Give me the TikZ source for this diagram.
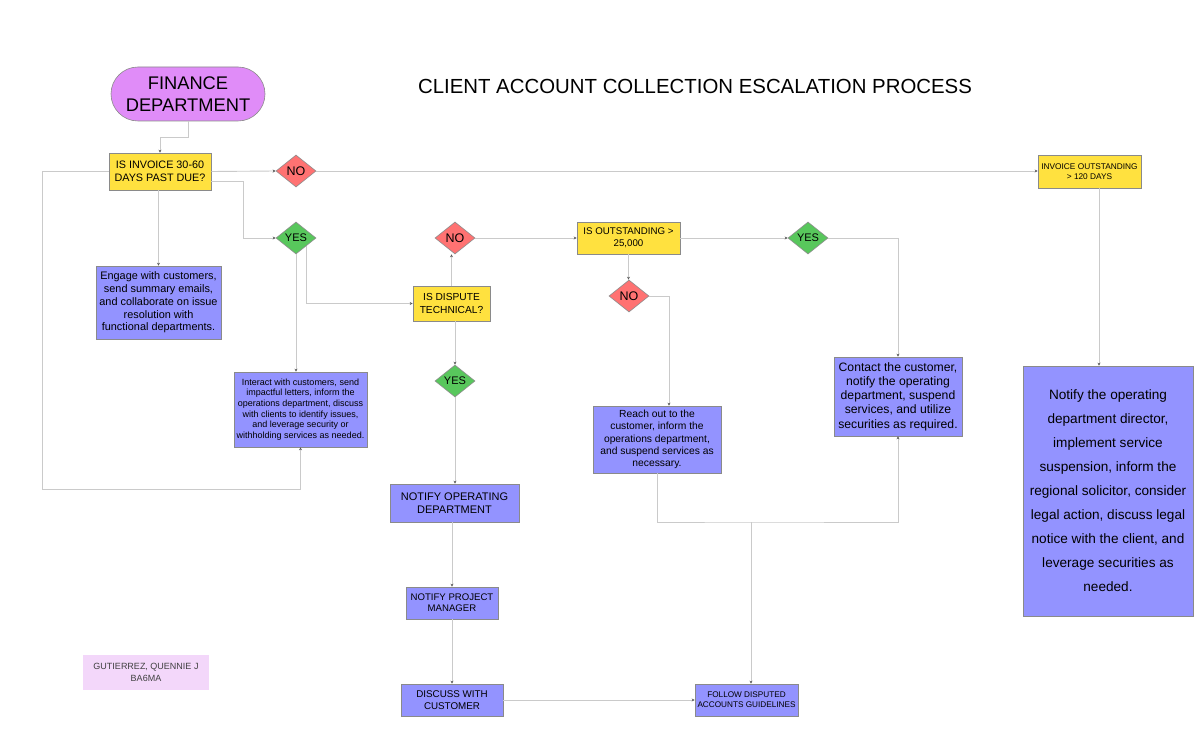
\documentclass[tikz,border=0pt]{standalone}
\usepackage{fontspec}
\setmainfont{Liberation Sans}
\setsansfont{Liberation Sans}
\usepackage{xcolor}
\usepackage{tikz}
\usetikzlibrary{shapes.geometric, arrows.meta, positioning, calc}

\definecolor{finfill}{HTML}{E08CF8}
\definecolor{qfill}{HTML}{FFE13F}
\definecolor{nofill}{HTML}{FF7272}
\definecolor{yesfill}{HTML}{58C75C}
\definecolor{actfill}{HTML}{9393FF}
\definecolor{namefill}{HTML}{F3D7FA}
\definecolor{edge}{HTML}{8A8A8A}
\definecolor{linkgray}{HTML}{CACACA}
\newcommand{\fsz}[2]{\fontsize{#1}{#2}\selectfont}

\begin{document}
\begin{tikzpicture}[x=1pt, y=-1pt, font=\sffamily,
    startbox/.style={draw=edge, fill=finfill, rounded corners=27pt, inner sep=0pt, align=center, line width=0.6pt},
    query/.style={draw=edge, fill=qfill, inner sep=0pt, align=center, line width=0.6pt},
    nobox/.style={diamond, draw=edge, fill=nofill, inner sep=0pt, minimum width=40pt, minimum height=32pt, line width=0.6pt},
    yesbox/.style={diamond, draw=edge, fill=yesfill, inner sep=0pt, minimum width=40pt, minimum height=32pt, line width=0.6pt},
    actbox/.style={draw=edge, fill=actfill, inner sep=0pt, align=center, line width=0.6pt},
    link/.style={draw=linkgray, line width=0.9pt, -{Stealth[length=3pt, width=3pt, color=black!65]}}]
    \useasboundingbox (0,0) rectangle (1200,738);

    % start and title
    \node[startbox, minimum width=154pt, minimum height=54pt, font=\fsz{18.3}{22}] (fin) at (188,94) {FINANCE\\DEPARTMENT};
    \node[font=\fsz{20.4}{22}] (ttl) at (695,86) {CLIENT ACCOUNT COLLECTION ESCALATION PROCESS};

    % questions
    \node[query, minimum width=102pt, minimum height=37pt, font=\fsz{10.8}{13.5}] (q1) at (160,171.5) {IS INVOICE 30-60\\DAYS PAST DUE?};
    \node[query, minimum width=77pt, minimum height=35pt, font=\fsz{10.2}{12.7}] (q2) at (451.5,303.5) {IS DISPUTE\\TECHNICAL?};
    \node[query, minimum width=103pt, minimum height=32pt, font=\fsz{9.7}{11.7}] (q3) at (628.5,238) {IS OUTSTANDING >\\25,000};
    \node[query, minimum width=103pt, minimum height=33pt, font=\fsz{8.3}{10}] (q4) at (1089.5,171.5) {INVOICE OUTSTANDING\\> 120 DAYS};

    % decisions
    \node[nobox, font=\fsz{12.5}{14}] (no1) at (296,171) {NO};
    \node[yesbox, font=\fsz{11}{12}] (yes1) at (296,238) {YES};
    \node[nobox, font=\fsz{12.5}{14}] (no2) at (455,238) {NO};
    \node[yesbox, font=\fsz{11}{12}] (yes2) at (455,381) {YES};
    \node[nobox, font=\fsz{12.5}{14}] (no3) at (629,296) {NO};
    \node[yesbox, font=\fsz{11}{12}] (yes3) at (808,238) {YES};

    % actions
    \node[actbox, minimum width=125pt, minimum height=73pt, font=\fsz{10.9}{12.7}] (act1) at (158.5,302.5) {Engage with customers,\\send summary emails,\\and collaborate on issue\\resolution with\\functional departments.};
    \node[actbox, minimum width=133pt, minimum height=75pt, font=\fsz{9}{10.6}] (act2) at (300.5,409.5) {Interact with customers, send\\impactful letters, inform the\\operations department, discuss\\with clients to identify issues,\\and leverage security or\\withholding services as needed.};
    \node[actbox, minimum width=129pt, minimum height=38pt, font=\fsz{11}{13.3}] (act3) at (454.5,503) {NOTIFY OPERATING\\DEPARTMENT};
    \node[actbox, minimum width=92pt, minimum height=32pt, font=\fsz{9.6}{11.3}] (act4) at (452,603) {NOTIFY PROJECT\\MANAGER};
    \node[actbox, minimum width=102pt, minimum height=32pt, font=\fsz{9.8}{11.7}] (act5) at (452,700) {DISCUSS WITH\\CUSTOMER};
    \node[actbox, minimum width=103pt, minimum height=32pt, font=\fsz{8.2}{9.7}] (act6) at (746.5,700) {FOLLOW DISPUTED\\ACCOUNTS GUIDELINES};
    \node[actbox, minimum width=128pt, minimum height=67pt, font=\fsz{10.3}{12.3}] (act7) at (657,439.5) {Reach out to the\\customer, inform the\\operations department,\\and suspend services as\\necessary.};
    \node[actbox, minimum width=128pt, minimum height=79pt, font=\fsz{12.2}{14.2}] (act8) at (898,396.5) {Contact the customer,\\notify the operating\\department, suspend\\services, and utilize\\securities as required.};
    \node[actbox, minimum width=170pt, minimum height=250pt, font=\fsz{13.6}{24}] (act9) at (1108,491) {Notify the operating\\department director,\\implement service\\suspension, inform the\\regional solicitor, consider\\legal action, discuss legal\\notice with the client, and\\leverage securities as\\needed.};

    % name tag
    \node[fill=namefill, minimum width=126pt, minimum height=35pt, inner sep=0pt, align=center, text=black!75, font=\fsz{9}{11.7}] (tag) at (146,672.5) {GUTIERREZ, QUENNIE J\\BA6MA};

    % connectors
    \coordinate (mrg) at (751,522);
    \draw[link] (fin.south) -- ++(0,16) -| (q1.north);
    \draw[link] (q1.east) -- (no1.west);
    \draw[link] (no1.east) -- (q4.west |- no1.east);
    \draw[link] ([yshift=-9.5pt]q1.east) -- ++(32,0) |- (yes1.west);
    \draw[link] (q1.west) -- ++(-66,0) |- ++(0,318) -| (act2.south);
    \draw[link] (q1.south -| act1.north) -- (act1.north);
    \draw[link] (yes1.south) -- (yes1.south |- act2.north);
    \draw[link] (yes1.south east) |- (q2.west);
    \draw[link] (q2.north) -- (q2.north |- no2.south);
    \draw[link] (no2.east) -- (q3.west);
    \draw[link] (q2.south -| yes2.north) -- (yes2.north);
    \draw[link] (yes2.south) -- (act3.north -| yes2.south);
    \draw[link] (act3.south -| act4.north) -- (act4.north);
    \draw[link] (act4.south) -- (act5.north);
    \draw[link] (act5.east) -- (act6.west);
    \draw[link] (q3.east) -- (yes3.west);
    \draw[link] (q3.south) -- (q3.south |- no3.north);
    \draw[link] (no3.east) -| ([xshift=12pt]act7.north);
    \draw[link] (yes3.east) -| (act8.north);
    \draw[link] (act7.south) |- (mrg) -| (act8.south);
    \draw[link] (mrg) -- (mrg |- act6.north);
    \draw[link] ([xshift=9.5pt]q4.south) -- ([xshift=9.5pt]q4.south |- act9.north);
\end{tikzpicture}
\end{document}
